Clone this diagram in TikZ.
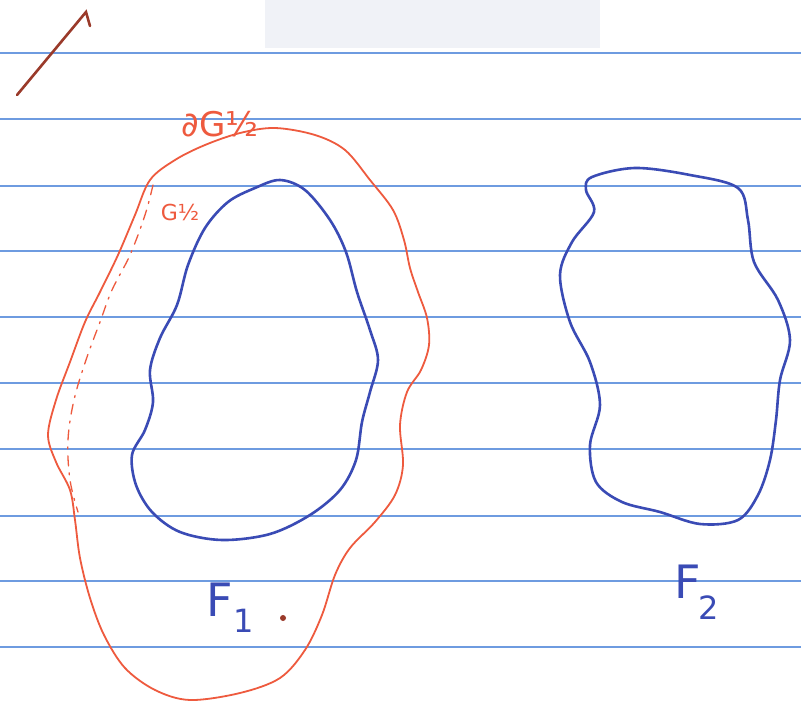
\documentclass[tikz,border=0pt]{standalone}
\usepackage{fontspec}
\newfontfamily\handfont{DejaVu Sans}
\begin{document}
\begin{tikzpicture}[x=1pt,y=-1pt,
  rule/.style={draw=ruleblue,line width=1.6pt},
  redpen/.style={draw=penred,line width=1.8pt,line cap=round,line join=round},
  bluepen/.style={draw=penblue,line width=2.6pt,line cap=round,line join=round},
  lbl/.style={inner sep=0pt,anchor=center,font=\handfont}]
\definecolor{ruleblue}{HTML}{6E9BE0}
\definecolor{penred}{HTML}{EE5A3E}
\definecolor{penblue}{HTML}{3A4BB5}
\definecolor{penbrown}{HTML}{9A3A2A}
\definecolor{smudge}{HTML}{F0F2F7}
\useasboundingbox (0,0) rectangle (801,709);
\fill[white] (0,0) rectangle (801,709);
\fill[smudge] (265,0) rectangle (600,48);
% ruled lines
\foreach \yy in {53,119,186,251,317,383,449,516,581,647}
  \draw[rule] (0,\yy) -- (801,\yy);
% brown stroke
\draw[draw=penbrown,line width=2.6pt,line cap=round] (17,95) -- (86,12) -- (90,26);
% red outer boundary dG_1/2
\draw[redpen] plot[smooth cycle,tension=0.55] coordinates {
 (150,180) (175,160) (205,145) (240,133) (275,128) (315,135) (345,150) (370,180) (393,210)
 (404,240) (410,268) (418,292) (427,318) (429,345) (421,370) (407,392) (400,425) (403,465) (395,495)
 (375,522) (350,548) (335,575) (322,615) (305,650) (280,678) (240,693) (190,700) (155,690)
 (125,668) (104,635) (90,598) (80,558) (75,520) (70,490) (56,462) (48,435) (56,400)
 (70,362) (85,322) (100,292) (118,255) (135,215)};
% red dashed inner curve G_1/2
\draw[redpen,line width=1.3pt,dash pattern=on 10pt off 7pt on 2pt off 7pt]
 plot[smooth,tension=0.6] coordinates {(153,185) (145,215) (130,255) (112,290) (100,322) (86,360) (74,400) (68,440) (70,480) (78,512)};
% blue F1
\draw[bluepen] plot[smooth cycle,tension=0.55] coordinates {
 (280,180) (255,188) (228,202) (205,228) (188,265) (177,305) (160,338) (150,370) (153,402)
 (145,430) (132,455) (136,485) (152,512) (180,532) (222,540) (270,534) (310,515) (340,490)
 (356,460) (362,422) (370,392) (378,360) (370,330) (357,292) (346,252) (330,220) (305,190)};
% blue F2
\draw[bluepen] plot[smooth cycle,tension=0.55] coordinates {
 (592,177) (635,168) (690,175) (738,188) (748,220) (754,262) (778,300) (790,340) (780,380)
 (776,420) (770,460) (758,495) (738,520) (700,524) (660,512) (622,502) (596,482) (590,445)
 (600,405) (590,362) (570,322) (560,275) (572,242) (594,212) (586,190)};
% labels
\node[lbl,text=penred,font=\handfont\fontsize{34}{34}\selectfont] (lab1) at (220,124) {∂G½};
\node[lbl,text=penred,font=\handfont\fontsize{22}{22}\selectfont] (lab2) at (180,212) {G½};
\node[lbl,text=penblue,font=\handfont\fontsize{46}{46}\selectfont] (f1) at (230,608) {F\raisebox{-0.35em}{\fontsize{32}{32}\selectfont 1}};
\fill[penbrown] (283,618) circle (3pt);
\node[lbl,text=penblue,font=\handfont\fontsize{46}{46}\selectfont] (f2) at (697,592) {F\hspace{-0.05em}\raisebox{-0.45em}{\fontsize{32}{32}\selectfont 2}};
\end{tikzpicture}
\end{document}
